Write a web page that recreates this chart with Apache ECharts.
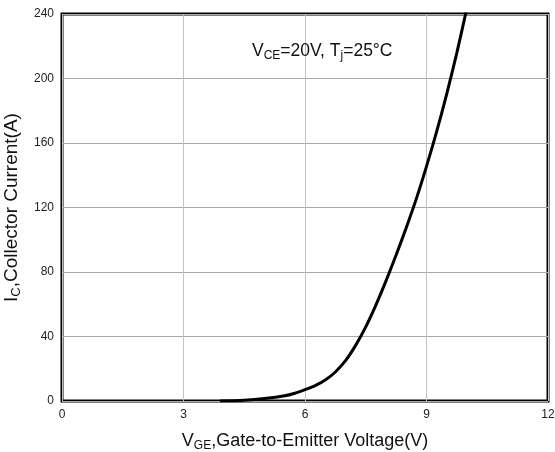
<!DOCTYPE html>
<html>
<head>
<meta charset="utf-8">
<script src="https://cdn.jsdelivr.net/npm/echarts@6/dist/echarts.min.js"></script>
<style>
  html, body { margin: 0; padding: 0; background: #fff; }
  #chart { width: 555px; height: 452px; }
</style>
</head>
<body>
<div id="chart"></div>
<script>
// gate voltage (V) vs collector current (A)
const vge = [3.9, 4.5, 5.0, 5.5, 5.75, 6.0, 6.25, 6.5, 6.75, 7.0, 7.25, 7.5, 7.75, 8.0, 8.25, 8.5, 8.75, 9.0, 9.25, 9.5, 9.75, 10.0];
const ic = [0, 0.5, 1.5, 3.2, 4.8, 7, 9.5, 13, 18, 25, 34.5, 46, 59.5, 74.5, 90.5, 107.5, 125.5, 145.5, 167, 190.5, 216, 244];
const xTicks = [0, 3, 6, 9, 12];
const yTicks = [0, 40, 80, 120, 160, 200, 240];

const font = 'Liberation Sans, Arial, sans-serif';
const makeRich = (size) => ({
  n: { fontFamily: font, fontSize: size, fontWeight: 'normal', color: '#111' },
  s: { fontFamily: font, fontSize: Math.round(size * 0.68), fontWeight: 'normal', color: '#111', padding: [Math.round(size * 0.55), 0, 0, 0] },
});
const chart = echarts.init(document.getElementById('chart'));

chart.setOption({
  animation: false,
  grid: {
    left: 62, right: 7, top: 14, bottom: 51,
    outerBoundsMode: 'none',
    show: true, borderColor: '#000', borderWidth: 3,
  },
  title: {
    left: 247, top: 35,
    text: '{n|V}{s|CE}{n|=20V, T}{s|j}{n|=25°C}',
    textStyle: { fontWeight: 'normal', rich: makeRich(17.5) },
  },
  xAxis: {
    type: 'value',
    min: xTicks[0], max: xTicks[xTicks.length - 1], interval: 3,
    axisLine: { show: false },
    axisTick: { show: false },
    splitLine: { lineStyle: { color: '#c4c4c4', width: 1 } },
    axisLabel: { color: '#222', fontFamily: font, fontSize: 12, margin: 8 },
    name: '{n|V}{s|GE}{n|,Gate-to-Emitter Voltage(V)}',
    nameLocation: 'middle',
    nameGap: 29,
    nameTextStyle: { rich: makeRich(18) },
  },
  yAxis: {
    type: 'value',
    min: yTicks[0], max: yTicks[yTicks.length - 1], interval: 40,
    axisLine: { show: false },
    axisTick: { show: false },
    splitLine: { lineStyle: { color: '#a8a8a8', width: 1 } },
    axisLabel: { color: '#222', fontFamily: font, fontSize: 12, margin: 8 },
    name: '{n|I}{s|C}{n|,Collector Current(A)}',
    nameLocation: 'middle',
    nameGap: 37,
    nameTextStyle: { rich: makeRich(19) },
  },
  series: [{
    type: 'line',
    data: vge.map((v, i) => [v, ic[i]]),
    smooth: 0.3,
    symbol: 'none',
    clip: true,
    lineStyle: { color: '#000', width: 3 },
  }],
});
</script>
</body>
</html>
